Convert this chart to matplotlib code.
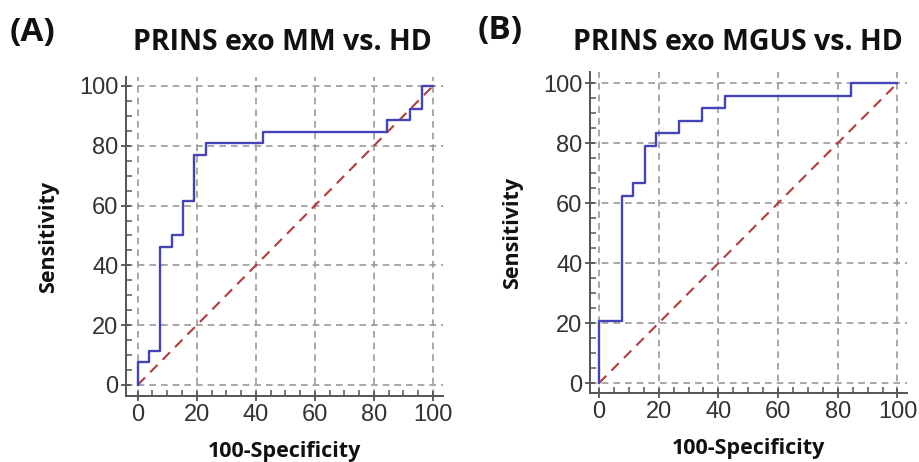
import matplotlib
matplotlib.use("Agg")
import matplotlib.pyplot as plt
import matplotlib.ticker as mticker

# ROC points (100-Specificity, Sensitivity)
mm_fpr = [0, 0, 3.8, 7.7, 11.5, 15.4, 19.2, 23.1, 42.3, 84.6, 92.3, 96.2, 100]
mm_tpr = [0, 7.7, 11.5, 46.2, 50.0, 61.5, 76.9, 80.8, 84.6, 88.5, 92.3, 100, 100]

mgus_fpr = [0, 0, 7.7, 11.5, 15.4, 19.2, 26.9, 34.6, 42.3, 84.6, 100]
mgus_tpr = [0, 20.8, 62.5, 66.7, 79.2, 83.3, 87.5, 91.7, 95.8, 100, 100]

ref_line = [0, 100]
ticks = [0, 20, 40, 60, 80, 100]

titles = ["PRINS exo MM vs. HD", "PRINS exo MGUS vs. HD"]
panel_tags = ["(A)", "(B)"]

lbl_font = "Open Sans"
tick_font = "Liberation Sans"

fig = plt.figure(figsize=(9.19, 4.62), dpi=100)

axA = fig.add_axes([126/919, 66/462, 317/919, 319/462])
axB = fig.add_axes([590/919, 69/462, 317/919, 321/462])


def style_roc(ax, fpr, tpr, xlim, ylim):
    ax.plot(ref_line, ref_line, color="#b23b3b", lw=1.5, ls=(0, (5, 3.5)), zorder=2)
    ax.plot(fpr, tpr, drawstyle="steps-post", color="#4444b8", lw=1.7, zorder=3)
    ax.set_xlim(*xlim)
    ax.set_ylim(*ylim)
    ax.set_xticks(ticks)
    ax.set_yticks(ticks)
    ax.xaxis.set_minor_locator(mticker.MultipleLocator(5))
    ax.yaxis.set_minor_locator(mticker.MultipleLocator(5))
    ax.grid(True, which="major", color="#9a9a9a", lw=1.2, ls=(0, (4, 3)))
    for s in ["top", "right"]:
        ax.spines[s].set_visible(False)
    for s in ["left", "bottom"]:
        ax.spines[s].set_color("#555555")
        ax.spines[s].set_linewidth(1.4)
    ax.tick_params(which="major", direction="inout", length=7, width=1.3,
                   color="#555555", labelsize=17, labelcolor="#333333", pad=2)
    ax.tick_params(which="minor", direction="in", length=4, width=1.1, color="#555555")
    for t in ax.get_xticklabels() + ax.get_yticklabels():
        t.set_fontfamily(tick_font)
    ax.set_xlabel("100-Specificity", fontfamily=lbl_font, fontweight="bold",
                  fontsize=15.5, labelpad=11, color="#111111")
    ax.set_ylabel("Sensitivity", fontfamily=lbl_font, fontweight="bold",
                  fontsize=15.5, labelpad=14, color="#111111")


style_roc(axA, mm_fpr, mm_tpr, (-3.96, 103.4), (-3.7, 103.0))
style_roc(axB, mgus_fpr, mgus_tpr, (-3.0, 103.2), (-3.3, 103.7))

fig.text(282/919, 1 - 42/462, titles[0], ha="center", va="center",
         fontfamily=lbl_font, fontweight="bold", fontsize=20.5, color="#111111")
fig.text(738/919, 1 - 42/462, titles[1], ha="center", va="center",
         fontfamily=lbl_font, fontweight="bold", fontsize=20.5, color="#111111")
fig.text(10/919, 1 - 33/462, panel_tags[0], ha="left", va="center",
         fontfamily=lbl_font, fontweight="bold", fontsize=24, color="#111111")
fig.text(478/919, 1 - 31/462, panel_tags[1], ha="left", va="center",
         fontfamily=lbl_font, fontweight="bold", fontsize=24, color="#111111")

fig.savefig("out.png", dpi=100)
